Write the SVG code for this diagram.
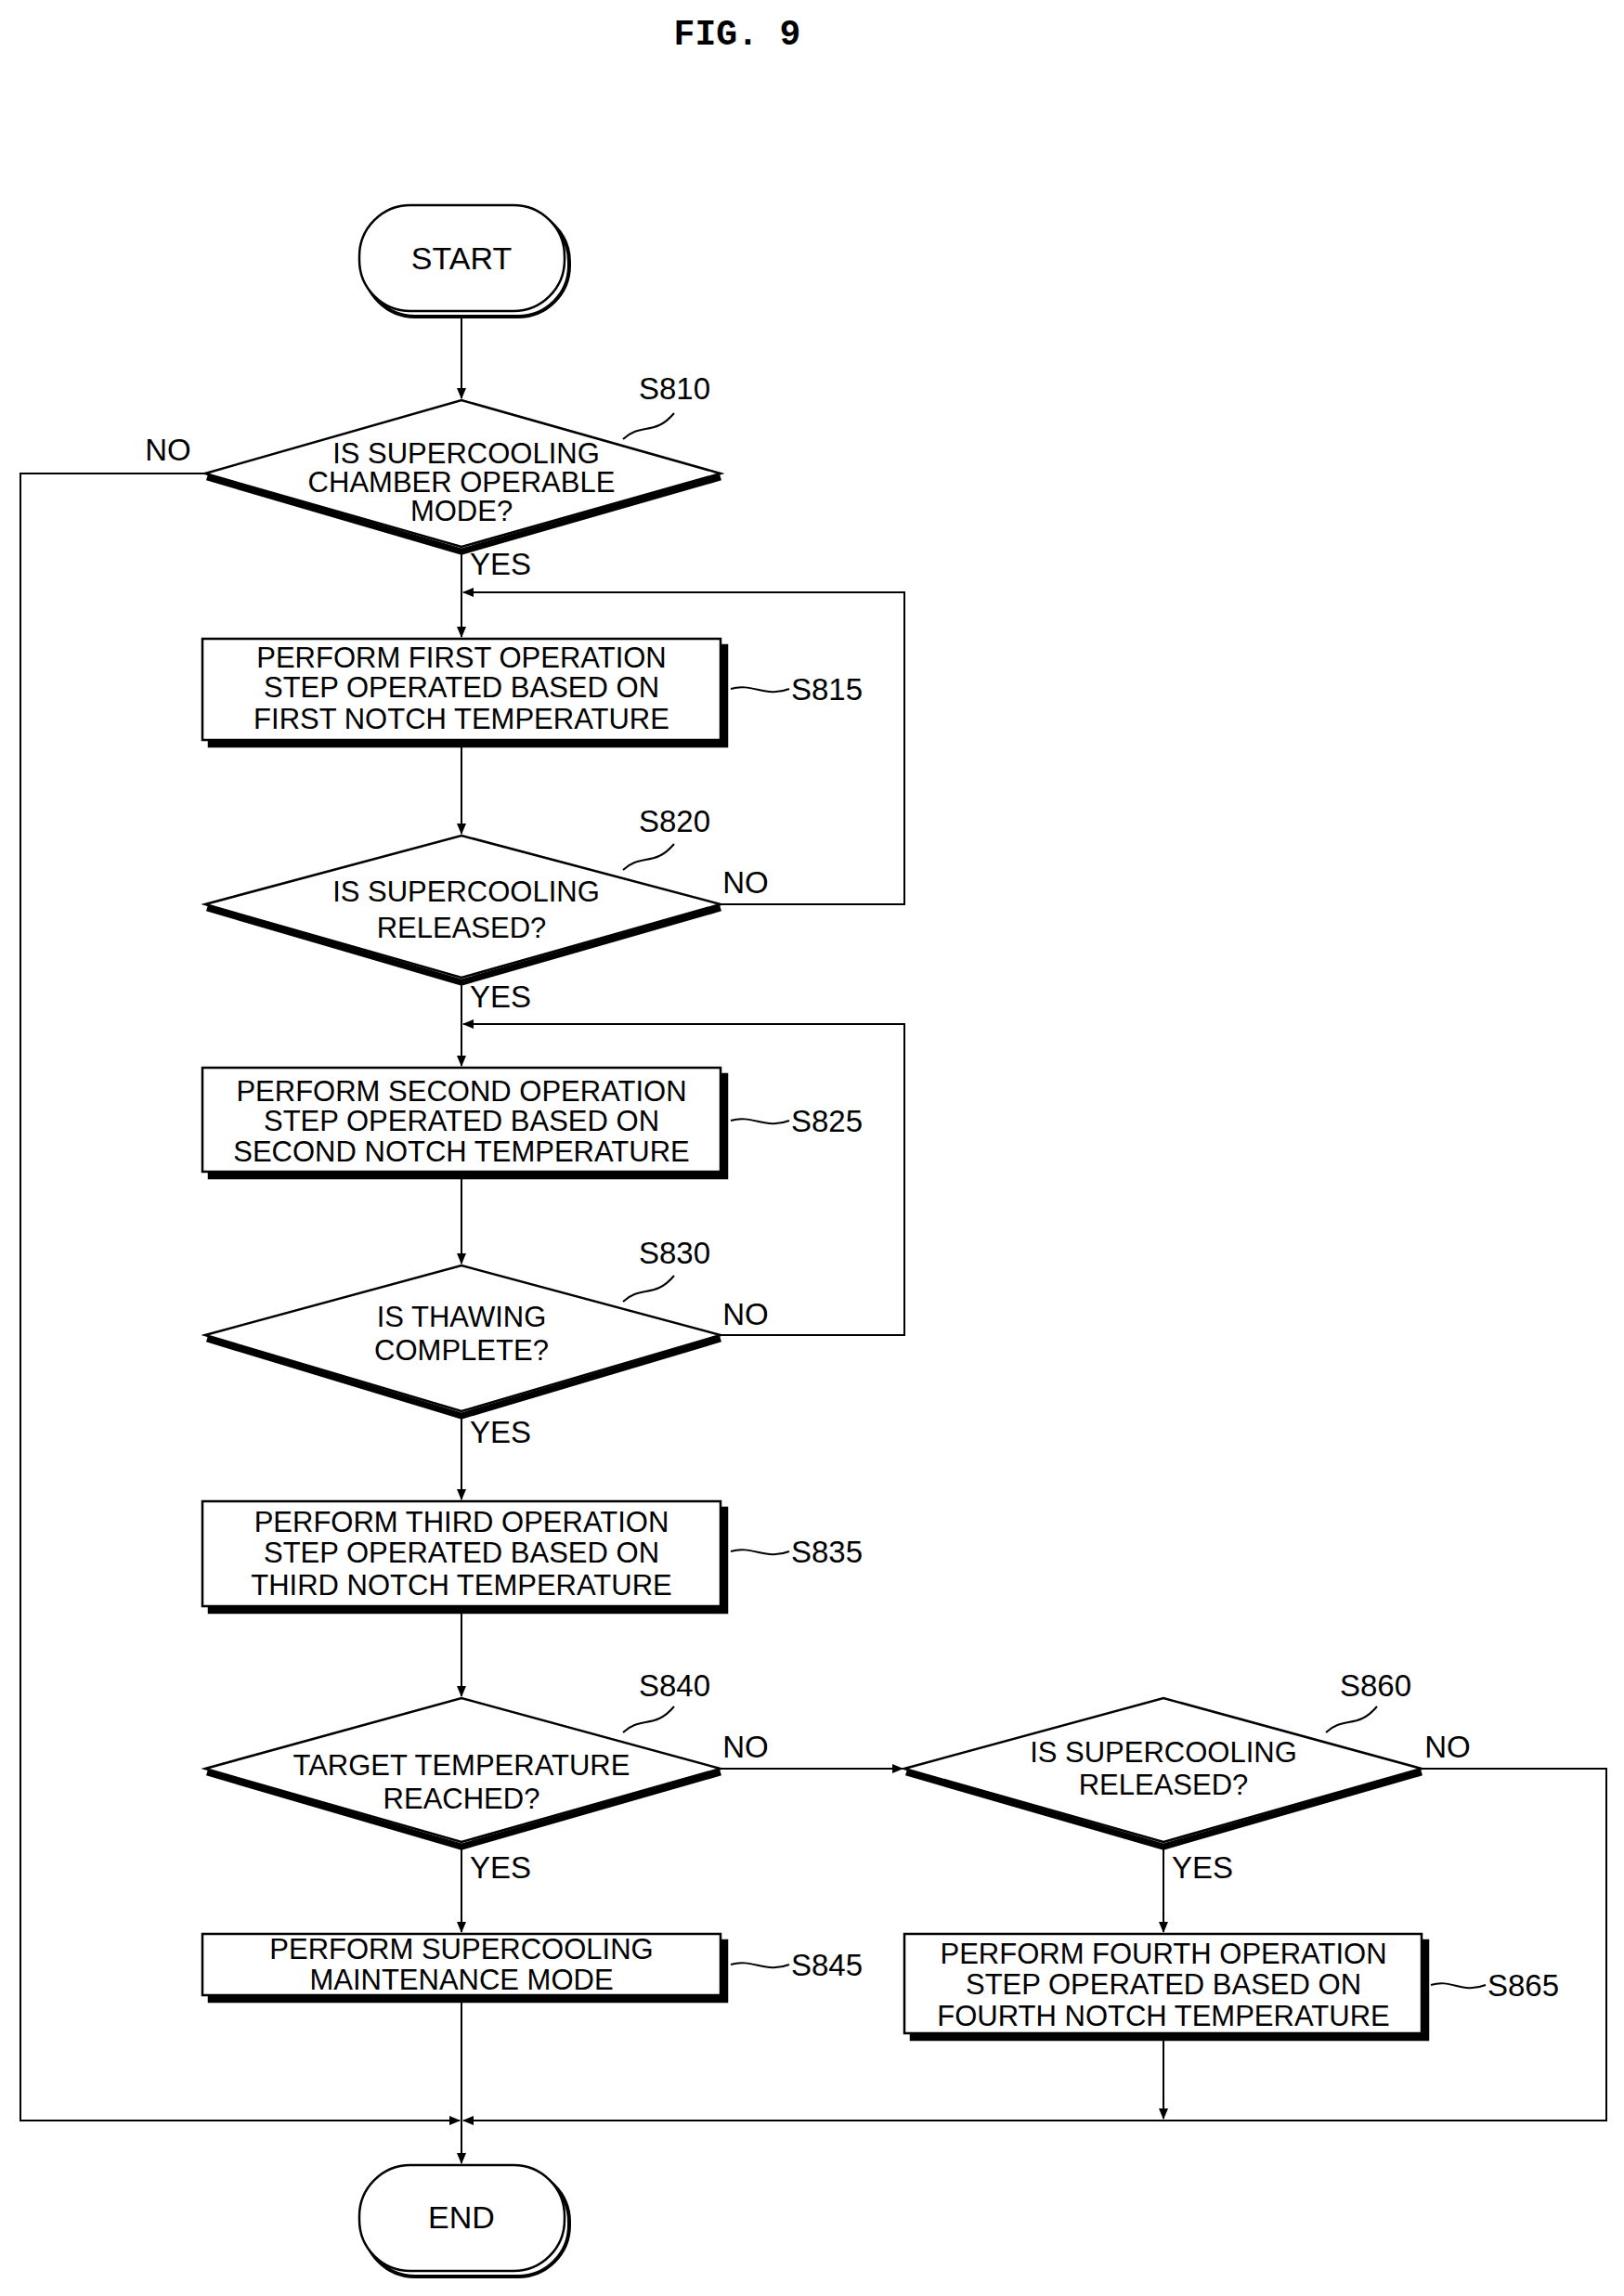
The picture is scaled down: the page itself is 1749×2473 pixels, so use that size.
<svg xmlns="http://www.w3.org/2000/svg" width="1749" height="2473" viewBox="0 0 1749 2473">
<style>
text{font-family:"Liberation Sans",Arial,sans-serif;font-size:31px;fill:#000;text-anchor:middle}
.lbl{text-anchor:start;font-size:33px}
.sh{fill:none;stroke:#000;stroke-width:7}
.o{fill:#fff;stroke:#000;stroke-width:2.5}
.c{fill:none;stroke:#000;stroke-width:2}
</style>
<defs><marker id="a" markerWidth="12" markerHeight="12" refX="11" refY="6" orient="auto" markerUnits="userSpaceOnUse"><path d="M0,1 L12,6 L0,11 Z" fill="#000"/></marker></defs>
<rect width="1749" height="2473" fill="#fff"/>
<text x="794" y="48" style="font-family:'Liberation Mono',monospace;font-weight:bold;font-size:38px">FIG. 9</text>

<g id="connectors">
<path class="c" d="M497,337 V429" marker-end="url(#a)"/>
<path class="c" d="M221,510 H22 V2284 H495" marker-end="url(#a)"/>
<path class="c" d="M497,591 V686" marker-end="url(#a)"/>
<path class="c" d="M776,974 H974 V638 H499" marker-end="url(#a)"/>
<path class="c" d="M497,800 V898" marker-end="url(#a)"/>
<path class="c" d="M497,1055 V1148" marker-end="url(#a)"/>
<path class="c" d="M776,1438 H974 V1103 H499" marker-end="url(#a)"/>
<path class="c" d="M497,1265 V1361" marker-end="url(#a)"/>
<path class="c" d="M497,1522 V1615" marker-end="url(#a)"/>
<path class="c" d="M497,1733 V1827" marker-end="url(#a)"/>
<path class="c" d="M497,1986 V2081" marker-end="url(#a)"/>
<path class="c" d="M776,1905 H972" marker-end="url(#a)"/>
<path class="c" d="M1253,1986 V2081" marker-end="url(#a)"/>
<path class="c" d="M1531,1905 H1730 V2284 H499" marker-end="url(#a)"/>
<path class="c" d="M1253,2193 V2282" marker-end="url(#a)"/>
<path class="c" d="M497,2152 V2284 V2330" marker-end="url(#a)"/>
<path class="c" d="M671,473 C690,455 705,470 726,445 M787,742 C810,735 825,752 850,742 M787,1207 C810,1200 825,1217 850,1207 M787,1671 C810,1664 825,1681 850,1671 M671,937 C690,919 705,934 726,909 M671,1402 C690,1384 705,1399 726,1374 M671,1866 C690,1848 705,1863 726,1838 M1428,1866 C1447,1848 1462,1863 1483,1838 M787,2116 C810,2109 825,2126 850,2116 M1541,2138 C1564,2131 1574,2148 1600,2138"/>
</g>

<g id="start"><rect x="392" y="227" width="221" height="114" rx="55" class="o" style="stroke-width:4"/><rect x="387" y="221" width="221" height="114" rx="55" class="o"/><text x="497" y="290" style="font-size:34px">START</text></g>

<g id="s810"><path class="sh" d="M223,514 L497,594 L776,514"/><path class="o" d="M221,510 L497,431 L776,510 L497,589 Z"/>
<text x="502" y="499">IS SUPERCOOLING</text><text x="497" y="530">CHAMBER OPERABLE</text><text x="497" y="561">MODE?</text>
<text class="lbl" x="688" y="430">S810</text><text x="181" y="496" style="font-size:33px">NO</text><text class="lbl" x="506" y="619">YES</text></g>

<g id="s815"><rect x="225" y="695" width="558" height="109" class="o" style="fill:#000"/><rect x="218" y="688" width="558" height="109" class="o"/>
<text x="497" y="719">PERFORM FIRST OPERATION</text><text x="497" y="751">STEP OPERATED BASED ON</text><text x="497" y="785">FIRST NOTCH TEMPERATURE</text>
<text class="lbl" x="852" y="754">S815</text></g>

<g id="s820"><path class="sh" d="M223,978 L497,1058 L776,978"/><path class="o" d="M221,974 L497,900 L776,974 L497,1053 Z"/>
<text x="502" y="971">IS SUPERCOOLING</text><text x="497" y="1010">RELEASED?</text>
<text class="lbl" x="688" y="896">S820</text><text x="803" y="962" style="font-size:33px">NO</text><text class="lbl" x="506" y="1085">YES</text></g>

<g id="s825"><rect x="225" y="1157" width="558" height="112" class="o" style="fill:#000"/><rect x="218" y="1150" width="558" height="112" class="o"/>
<text x="497" y="1186">PERFORM SECOND OPERATION</text><text x="497" y="1218">STEP OPERATED BASED ON</text><text x="497" y="1251">SECOND NOTCH TEMPERATURE</text>
<text class="lbl" x="852" y="1219">S825</text></g>

<g id="s830"><path class="sh" d="M223,1442 L497,1525 L776,1442"/><path class="o" d="M221,1438 L497,1363 L776,1438 L497,1520 Z"/>
<text x="497" y="1429">IS THAWING</text><text x="497" y="1465">COMPLETE?</text>
<text class="lbl" x="688" y="1361">S830</text><text x="803" y="1427" style="font-size:33px">NO</text><text class="lbl" x="506" y="1554">YES</text></g>

<g id="s835"><rect x="225" y="1624" width="558" height="113" class="o" style="fill:#000"/><rect x="218" y="1617" width="558" height="113" class="o"/>
<text x="497" y="1650">PERFORM THIRD OPERATION</text><text x="497" y="1683">STEP OPERATED BASED ON</text><text x="497" y="1718">THIRD NOTCH TEMPERATURE</text>
<text class="lbl" x="852" y="1683">S835</text></g>

<g id="s840"><path class="sh" d="M223,1909 L497,1989 L776,1909"/><path class="o" d="M221,1905 L497,1829 L776,1905 L497,1984 Z"/>
<text x="497" y="1912">TARGET TEMPERATURE</text><text x="497" y="1948">REACHED?</text>
<text class="lbl" x="688" y="1827">S840</text><text x="803" y="1893" style="font-size:33px">NO</text><text class="lbl" x="506" y="2023">YES</text></g>

<g id="s860"><path class="sh" d="M976,1909 L1253,1989 L1531,1909"/><path class="o" d="M974,1905 L1253,1829 L1531,1905 L1253,1984 Z"/>
<text x="1253" y="1898">IS SUPERCOOLING</text><text x="1253" y="1933">RELEASED?</text>
<text class="lbl" x="1443" y="1827">S860</text><text x="1559" y="1893" style="font-size:33px">NO</text><text class="lbl" x="1262" y="2023">YES</text></g>

<g id="s845"><rect x="225" y="2090" width="558" height="66" class="o" style="fill:#000"/><rect x="218" y="2083" width="558" height="66" class="o"/>
<text x="497" y="2110">PERFORM SUPERCOOLING</text><text x="497" y="2143">MAINTENANCE MODE</text>
<text class="lbl" x="852" y="2128">S845</text></g>

<g id="s865"><rect x="981" y="2090" width="557" height="107" class="o" style="fill:#000"/><rect x="974" y="2083" width="557" height="107" class="o"/>
<text x="1253" y="2115">PERFORM FOURTH OPERATION</text><text x="1253" y="2148">STEP OPERATED BASED ON</text><text x="1253" y="2182">FOURTH NOTCH TEMPERATURE</text>
<text class="lbl" x="1602" y="2150">S865</text></g>

<g id="end"><rect x="392" y="2338" width="221" height="114" rx="55" class="o" style="stroke-width:4"/><rect x="387" y="2332" width="221" height="114" rx="55" class="o"/><text x="497" y="2400" style="font-size:34px">END</text></g>
</svg>
